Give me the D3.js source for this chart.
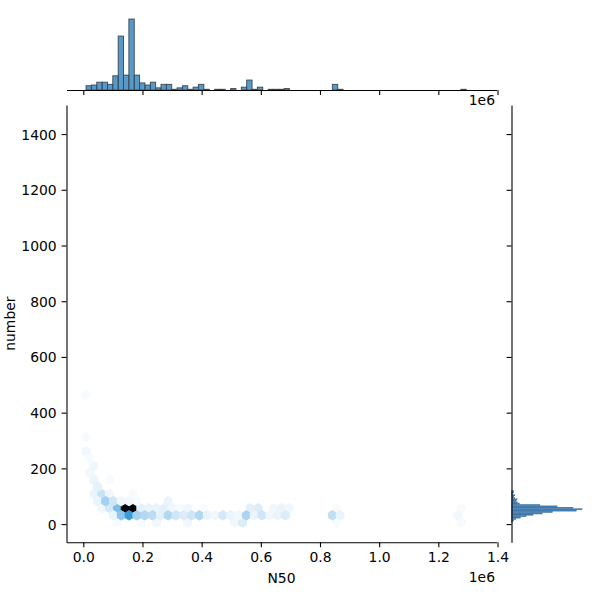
<!DOCTYPE html>
<html><head><meta charset="utf-8">
<script src="https://cdn.jsdelivr.net/npm/d3@7"></script>
<style>
body{margin:0;background:#fff}
text{font-family:"DejaVu Sans",sans-serif;fill:#000}
</style>
</head><body>
<svg id="chart" width="600" height="600"></svg>
<script>
// ---------------- data ----------------
const n50TickValues = [0, 200000, 400000, 600000, 800000, 1000000, 1200000, 1400000];
const n50TickLabels = ["0.0", "0.2", "0.4", "0.6", "0.8", "1.0", "1.2", "1.4"];
const numberTickValues = [0, 200, 400, 600, 800, 1000, 1200, 1400];
const numberTickLabels = ["0", "200", "400", "600", "800", "1000", "1200", "1400"];
const n50Extent = [9300, 1330500];
const numberExtent = [6, 1433];
const hexGridSize = 50;

// marginal histogram of N50 (73 bins over n50Extent)
const n50BinCounts = [6, 7, 11, 11, 8, 20, 76, 21, 100, 21, 10, 7, 11, 3, 8, 8, 1, 3, 6, 1,
  4, 8, 1, 0, 1, 1, 0, 2, 0, 4, 14, 1, 4, 0, 1, 1, 1, 2, 0, 0,
  0, 0, 0, 0, 0, 0, 8, 1, 0, 0, 0, 0, 0, 0, 0, 0, 0, 0, 0, 0,
  0, 0, 0, 0, 0, 0, 0, 0, 0, 0, 1, 0, 0];
// marginal histogram of number (bins of 5 starting at 6)
const numberBinStart = 6;
const numberBinWidth = 5;
const numberBinCounts = [1, 2, 4, 8, 13, 19, 27, 36, 57, 62, 54, 40, 25, 7, 5, 4, 5, 3, 2, 3, 1, 2, 2];

// hexbin cells: centre N50, centre number, count
const hexN50 = [
  9300, 9300, 9300, 35724, 35724, 88572, 35724, 62148, 88572, 167844,
  62148, 88572, 114996, 141420, 167844, 194268, 220692, 247116, 273540, 299964,
  326388, 352812, 405660, 564204, 590628, 643476, 669900, 696324, 854868, 1277652,
  114996, 194268, 247116, 352812, 511356, 537780, 854868, 1277652,
  22512, 22512, 48936, 48936, 75360, 101784, 128208, 154632, 181056, 286752,
  101784, 128208, 154632, 181056, 207480, 233904, 260328, 286752, 313176, 339600,
  366024, 392448, 418872, 445296, 471720, 498144, 524568, 550992, 577416, 603840,
  630264, 656688, 683112, 841656, 868080, 1264416];
const hexNumber = [
  464.6, 311.8, 260.8, 209.8, 158.9, 158.9, 107.9, 107.9, 107.9, 107.9,
  57.0, 57.0, 57.0, 57.0, 57.0, 57.0, 57.0, 57.0, 57.0, 57.0,
  57.0, 57.0, 57.0, 57.0, 57.0, 57.0, 57.0, 57.0, 57.0, 57.0,
  6, 6, 6, 6, 6, 6, 6, 6,
  235.3, 184.4, 133.4, 82.4, 82.4, 82.4, 82.4, 82.4, 82.4, 82.4,
  31.5, 31.5, 31.5, 31.5, 31.5, 31.5, 31.5, 31.5, 31.5, 31.5,
  31.5, 31.5, 31.5, 31.5, 31.5, 31.5, 31.5, 31.5, 31.5, 31.5,
  31.5, 31.5, 31.5, 31.5, 31.5, 31.5];
const hexCount = [
  1, 1, 2, 2, 3, 1, 3, 8, 2, 1,
  2, 6, 18, 60, 62, 4, 3, 3, 4, 2,
  1, 2, 1, 4, 5, 2, 3, 2, 1, 1,
  1, 1, 2, 2, 2, 5, 1, 1,
  1, 2, 4, 3, 13, 7, 2, 2, 1, 3,
  3, 16, 28, 13, 11, 10, 4, 11, 7, 5,
  7, 11, 3, 2, 6, 3, 2, 12, 3, 7,
  2, 3, 5, 9, 3, 2];

// ---------------- layout ----------------
const svg = d3.select("#chart");
const M = {left: 66.5, right: 496.5, top: 105, bottom: 542.3};
const topMarg = {top: 15.5, bottom: 90};
const rightMarg = {left: 511.5, right: 585.7};
const fontSize = 13.9, tickLen = 4.9, tickPad = 4.9;

const xR = n50Extent[1] - n50Extent[0];
const yR = numberExtent[1] - numberExtent[0];
const x = d3.scaleLinear()
  .domain([n50Extent[0] - 0.05 * xR, n50Extent[1] + 0.05 * xR])
  .range([M.left, M.right]);
const y = d3.scaleLinear()
  .domain([numberExtent[0] - 0.05 * yR, numberExtent[1] + 0.05 * yR])
  .range([M.bottom, M.top]);

// colormap: white -> C0 -> black (seaborn hex cmap)
const base = d3.hsl("#1f77b4");
const stops = d3.range(12).map(i => d3.hsl(base.h, base.s, 1 - i / 11).formatRgb());
const cmap = d3.scaleLinear().domain(d3.range(12).map(i => i / 11)).range(stops)
  .interpolate(d3.interpolateRgb).clamp(true);
const vmax = d3.max(hexCount);

// clip
svg.append("defs").append("clipPath").attr("id", "mainclip")
  .append("rect").attr("x", M.left).attr("y", M.top)
  .attr("width", M.right - M.left).attr("height", M.bottom - M.top);

// hexagons (matplotlib hexbin geometry)
const sx = xR / hexGridSize;
const sy = yR / Math.floor(hexGridSize / Math.sqrt(3));
const hexOffsets = [[0.5, -0.5], [0.5, 0.5], [0, 1], [-0.5, 0.5], [-0.5, -0.5], [0, -1]];
const hexPath = (cx, cy) => "M" + hexOffsets.map(([a, b]) =>
  x(cx + a * sx).toFixed(2) + "," + y(cy + b * sy / 3).toFixed(2)).join("L") + "Z";

const cells = hexCount.map((c, i) => ({x: hexN50[i], y: hexNumber[i], c}));
svg.append("g").attr("clip-path", "url(#mainclip)")
  .selectAll("path").data(cells).join("path")
  .attr("d", d => hexPath(d.x, d.y))
  .attr("fill", d => cmap(d.c / vmax))
  .attr("stroke", d => cmap(d.c / vmax))
  .attr("stroke-width", 1);

// main axes
const xAxis = svg.append("g").attr("transform", `translate(0,${M.bottom})`)
  .call(d3.axisBottom(x).tickValues(n50TickValues)
    .tickFormat((d, i) => n50TickLabels[i]).tickSize(tickLen).tickPadding(tickPad).tickSizeOuter(0));
const yAxis = svg.append("g").attr("transform", `translate(${M.left},0)`)
  .call(d3.axisLeft(y).tickValues(numberTickValues)
    .tickFormat((d, i) => numberTickLabels[i]).tickSize(tickLen).tickPadding(tickPad).tickSizeOuter(0));
[xAxis, yAxis].forEach(g => {
  g.attr("font-size", null).attr("font-family", null);
  g.selectAll("text").style("font-size", fontSize + "px");
  g.selectAll("line,path").attr("stroke", "#000").attr("stroke-width", 1.1);
});
yAxis.selectAll("text").attr("dy", "0.36em");

svg.append("text").attr("x", (M.left + M.right) / 2).attr("y", 583)
  .attr("text-anchor", "middle").style("font-size", fontSize + "px").text("N50");
svg.append("text").attr("transform", `translate(14.5,${(M.top + M.bottom) / 2}) rotate(-90)`)
  .attr("text-anchor", "middle").style("font-size", fontSize + "px").text("number");
svg.append("text").attr("x", 495).attr("y", 582)
  .attr("text-anchor", "end").style("font-size", fontSize + "px").text("1e6");

// top marginal histogram
const nBins = n50BinCounts.length;
const bw = xR / nBins;
const yTop = d3.scaleLinear().domain([0, d3.max(n50BinCounts) * 1.05]).range([topMarg.bottom, topMarg.top]);
svg.append("g").selectAll("rect")
  .data(n50BinCounts.map((c, i) => ({x0: n50Extent[0] + i * bw, x1: n50Extent[0] + (i + 1) * bw, c})).filter(d => d.c > 0))
  .join("rect")
  .attr("x", d => x(d.x0)).attr("width", d => x(d.x1) - x(d.x0))
  .attr("y", d => yTop(d.c)).attr("height", d => yTop(0) - yTop(d.c))
  .attr("fill", "rgba(31,119,180,0.75)")
  .attr("stroke", "#3a4654").attr("stroke-width", 0.9);
const topAxis = svg.append("g").attr("transform", `translate(0,${topMarg.bottom})`)
  .call(d3.axisBottom(x).tickValues(n50TickValues).tickFormat("").tickSize(tickLen).tickSizeOuter(0));
topAxis.selectAll("line,path").attr("stroke", "#000").attr("stroke-width", 1.1);
svg.append("text").attr("x", 495).attr("y", 105)
  .attr("text-anchor", "end").style("font-size", fontSize + "px").text("1e6");

// right marginal histogram
const xRight = d3.scaleLinear().domain([0, d3.max(numberBinCounts) * 1.05]).range([rightMarg.left, rightMarg.right]);
svg.append("g").selectAll("rect")
  .data(numberBinCounts.map((c, i) => ({y0: numberBinStart + i * numberBinWidth, y1: numberBinStart + (i + 1) * numberBinWidth, c})).filter(d => d.c > 0))
  .join("rect")
  .attr("x", rightMarg.left).attr("width", d => xRight(d.c) - rightMarg.left)
  .attr("y", d => y(d.y1)).attr("height", d => y(d.y0) - y(d.y1))
  .attr("fill", "#3f7cb2")
  .attr("stroke", "#2f5f88").attr("stroke-width", 0.2);
const rightAxis = svg.append("g").attr("transform", `translate(${rightMarg.left},0)`)
  .call(d3.axisLeft(y).tickValues(numberTickValues).tickFormat("").tickSize(tickLen).tickSizeOuter(0));
rightAxis.selectAll("line,path").attr("stroke", "#000").attr("stroke-width", 1.1);
</script>
</body></html>
